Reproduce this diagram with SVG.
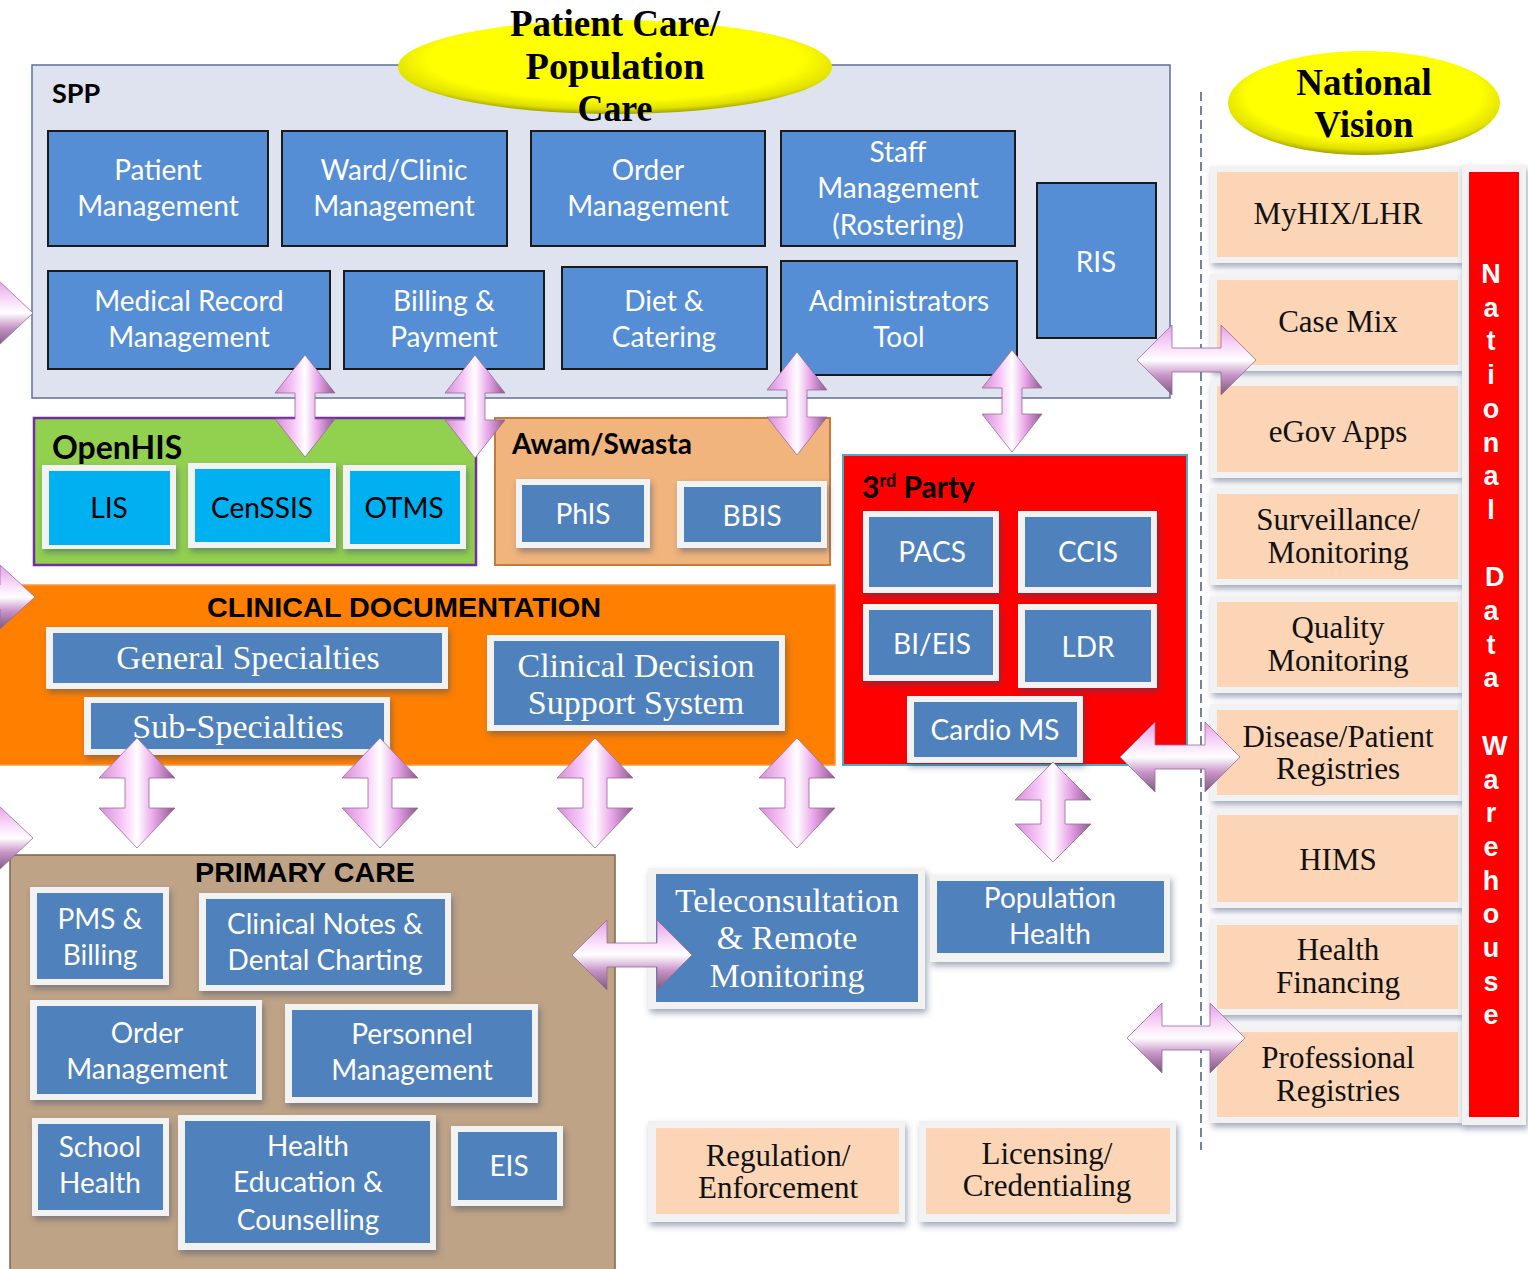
<svg xmlns="http://www.w3.org/2000/svg" width="1528" height="1269" viewBox="0 0 1528 1269">
<style>
.sans{font-family:Lato,"Liberation Sans",sans-serif}
.serif{font-family:"Liberation Serif",serif}
.bt{fill:#558ed5;stroke:#1a1a1a;stroke-width:2}
.bx{fill:#4f81bd}
.cy{fill:#00b0f0}
.pe{fill:#fbd5b5}
.fr{fill:#f2f2f2;filter:url(#sh)}
.wt{fill:#ffffff;font-size:28px;text-anchor:middle}
.bk{fill:#000000;font-size:28px;text-anchor:middle}
.st{fill:#ffffff;font-size:34px;text-anchor:middle}
.sk{fill:#111111;font-size:31px;text-anchor:middle}
.hd{font-family:Lato,"Liberation Sans",sans-serif;font-weight:bold;fill:#000}
.ah{font-family:"Liberation Sans",sans-serif;font-weight:bold;fill:#000;text-anchor:middle}
.av{fill:url(#gv);stroke:#9a6a9a;stroke-width:0.8}
.ahz{fill:url(#gh);stroke:#9a6a9a;stroke-width:0.8}
.ell{font-family:"Liberation Serif",serif;font-weight:bold;fill:#000;text-anchor:middle}
</style>
<defs>
<filter id="sh" x="-10%" y="-10%" width="125%" height="135%">
<feDropShadow dx="2" dy="4" stdDeviation="3" flood-color="#34456a" flood-opacity="0.45"/>
</filter>
<linearGradient id="gv" x1="0" y1="0" x2="1" y2="0">
<stop offset="0" stop-color="#d48ed4"/>
<stop offset="0.3" stop-color="#f7c6f7"/>
<stop offset="0.5" stop-color="#ffffff"/>
<stop offset="0.72" stop-color="#e9a5e9"/>
<stop offset="1" stop-color="#8a5a8a"/>
</linearGradient>
<linearGradient id="gh" x1="0" y1="0" x2="0" y2="1">
<stop offset="0" stop-color="#e6a0e6"/>
<stop offset="0.35" stop-color="#fbe4fb"/>
<stop offset="0.5" stop-color="#ffffff"/>
<stop offset="0.72" stop-color="#c894c8"/>
<stop offset="1" stop-color="#7a5a7a"/>
</linearGradient>
<radialGradient id="gy" cx="0.5" cy="0.42" r="0.6">
<stop offset="0" stop-color="#ffff00"/>
<stop offset="0.72" stop-color="#ffff00"/>
<stop offset="0.88" stop-color="#e0e000"/>
<stop offset="1" stop-color="#8a8a00"/>
</radialGradient>
</defs>
<rect x="0" y="0" width="1528" height="1269" fill="#ffffff"/>

<!-- SPP container -->
<g id="spp">
<rect x="32" y="65" width="1138" height="333" fill="#dfe3ef" stroke="#5f7198" stroke-width="1.5"/>
<text x="52" y="103" class="hd" font-size="27">SPP</text>
</g>
<g id="patient-care-ellipse">
<ellipse cx="615" cy="67" rx="217" ry="47" fill="url(#gy)"/>
<text class="ell" font-size="37"><tspan x="615" y="36" textLength="210" lengthAdjust="spacingAndGlyphs">Patient Care/</tspan><tspan x="615" y="79" textLength="179" lengthAdjust="spacingAndGlyphs">Population</tspan><tspan x="615" y="121" textLength="75" lengthAdjust="spacingAndGlyphs">Care</tspan></text>
</g>
<g id="patient-management"><rect class="bt" x="48" y="131" width="220" height="115"/><text class="sans wt"><tspan x="158" y="180">Patient</tspan><tspan x="158" y="216">Management</tspan></text></g>
<g id="ward-clinic"><rect class="bt" x="282" y="131" width="225" height="115"/><text class="sans wt"><tspan x="394" y="180">Ward/Clinic</tspan><tspan x="394" y="216">Management</tspan></text></g>
<g id="order-management"><rect class="bt" x="531" y="131" width="234" height="115"/><text class="sans wt"><tspan x="648" y="180">Order</tspan><tspan x="648" y="216">Management</tspan></text></g>
<g id="staff-management"><rect class="bt" x="781" y="131" width="234" height="115"/><text class="sans wt"><tspan x="898" y="162">Staff</tspan><tspan x="898" y="198">Management</tspan><tspan x="898" y="235">(Rostering)</tspan></text></g>
<g id="ris"><rect class="bt" x="1037" y="183" width="119" height="155"/><text class="sans wt" x="1096" y="272">RIS</text></g>
<g id="medical-record"><rect class="bt" x="48" y="271" width="282" height="98"/><text class="sans wt"><tspan x="189" y="311">Medical Record</tspan><tspan x="189" y="347">Management</tspan></text></g>
<g id="billing-payment"><rect class="bt" x="344" y="271" width="200" height="98"/><text class="sans wt"><tspan x="444" y="311">Billing &amp;</tspan><tspan x="444" y="347">Payment</tspan></text></g>
<g id="diet-catering"><rect class="bt" x="562" y="267" width="205" height="102"/><text class="sans wt"><tspan x="664" y="311">Diet &amp;</tspan><tspan x="664" y="347">Catering</tspan></text></g>
<g id="admin-tool"><rect class="bt" x="781" y="261" width="236" height="114"/><text class="sans wt"><tspan x="899" y="311">Administrators</tspan><tspan x="899" y="347">Tool</tspan></text></g>

<!-- OpenHIS -->
<g id="openhis">
<rect x="34" y="418" width="442" height="147" fill="#92d050" stroke="#7030a0" stroke-width="2.5"/>
<text x="52" y="459" class="hd" font-size="32">OpenHIS</text>
</g>
<g id="lis"><rect class="fr" x="42" y="465" width="134" height="84"/><rect class="cy" x="49" y="471" width="121" height="74"/><text class="sans bk" x="109" y="518">LIS</text></g>
<g id="censsis"><rect class="fr" x="188" y="463" width="148" height="85"/><rect class="cy" x="195" y="469" width="135" height="73"/><text class="sans bk" x="262" y="518">CenSSIS</text></g>
<g id="otms"><rect class="fr" x="343" y="465" width="123" height="84"/><rect class="cy" x="350" y="471" width="110" height="73"/><text class="sans bk" x="404" y="518">OTMS</text></g>

<!-- Awam/Swasta -->
<g id="awam-swasta">
<rect x="495" y="418" width="335" height="147" fill="#f0b47c" stroke="#c57a3e" stroke-width="2"/>
<text x="512" y="454" class="hd" font-size="28">Awam/Swasta</text>
</g>
<g id="phis"><rect class="fr" x="516" y="479" width="134" height="69"/><rect class="bx" x="522" y="485" width="122" height="57"/><text class="sans wt" x="583" y="524">PhIS</text></g>
<g id="bbis"><rect class="fr" x="677" y="481" width="150" height="67"/><rect class="bx" x="684" y="487" width="137" height="55"/><text class="sans wt" x="752" y="526">BBIS</text></g>

<!-- Clinical Documentation -->
<g id="clinical-documentation">
<rect x="-2" y="585" width="837" height="180" fill="#ff8000" stroke="#f79646" stroke-width="1.5"/>
<text class="ah" x="404" y="617" font-size="28" textLength="394" lengthAdjust="spacingAndGlyphs">CLINICAL DOCUMENTATION</text>
</g>
<g id="general-specialties"><rect class="fr" x="46" y="627" width="402" height="62"/><rect class="bx" x="53" y="633" width="389" height="50"/><text class="serif st" x="248" y="669">General Specialties</text></g>
<g id="sub-specialties"><rect class="fr" x="84" y="697" width="306" height="58"/><rect class="bx" x="91" y="703" width="293" height="46"/><text class="serif st" x="238" y="738">Sub-Specialties</text></g>
<g id="cdss"><rect class="fr" x="487" y="635" width="298" height="96"/><rect class="bx" x="494" y="641" width="285" height="84"/><text class="serif st"><tspan x="636" y="677">Clinical Decision</tspan><tspan x="636" y="714">Support  System</tspan></text></g>

<!-- 3rd Party -->
<g id="third-party">
<rect x="843" y="455" width="344" height="310" fill="#ff0000" stroke="#4bacc6" stroke-width="2"/>
<text x="862" y="498" class="hd" font-size="30">3<tspan font-size="18" dy="-11">rd</tspan><tspan dy="11"> Party</tspan></text>
</g>
<g id="pacs"><rect class="fr" x="863" y="511" width="136" height="82"/><rect class="bx" x="869" y="517" width="124" height="70"/><text class="sans wt" x="932" y="562">PACS</text></g>
<g id="ccis"><rect class="fr" x="1018" y="511" width="139" height="82"/><rect class="bx" x="1025" y="517" width="126" height="70"/><text class="sans wt" x="1088" y="562">CCIS</text></g>
<g id="bi-eis"><rect class="fr" x="863" y="604" width="136" height="77"/><rect class="bx" x="869" y="610" width="124" height="65"/><text class="sans wt" x="932" y="654">BI/EIS</text></g>
<g id="ldr"><rect class="fr" x="1018" y="604" width="139" height="84"/><rect class="bx" x="1025" y="610" width="126" height="72"/><text class="sans wt" x="1088" y="657">LDR</text></g>
<g id="cardio-ms"><rect class="fr" x="907" y="696" width="176" height="67"/><rect class="bx" x="914" y="702" width="163" height="55"/><text class="sans wt" x="995" y="740">Cardio MS</text></g>

<!-- Primary Care -->
<g id="primary-care">
<rect x="10" y="855" width="605" height="420" fill="#bfa386" stroke="#7a6650" stroke-width="1.5"/>
<text class="ah" x="305" y="882" font-size="27" textLength="220" lengthAdjust="spacingAndGlyphs">PRIMARY CARE</text>
</g>
<g id="pms-billing"><rect class="fr" x="30" y="887" width="139" height="98"/><rect class="bx" x="37" y="893" width="126" height="86"/><text class="sans wt"><tspan x="100" y="929">PMS &amp;</tspan><tspan x="100" y="965">Billing</tspan></text></g>
<g id="clinical-notes"><rect class="fr" x="199" y="893" width="252" height="98"/><rect class="bx" x="206" y="899" width="239" height="86"/><text class="sans wt"><tspan x="325" y="934">Clinical Notes &amp;</tspan><tspan x="325" y="970">Dental Charting</tspan></text></g>
<g id="pc-order-management"><rect class="fr" x="30" y="1000" width="232" height="100"/><rect class="bx" x="37" y="1006" width="219" height="88"/><text class="sans wt"><tspan x="147" y="1043">Order</tspan><tspan x="147" y="1079">Management</tspan></text></g>
<g id="personnel-management"><rect class="fr" x="285" y="1004" width="253" height="99"/><rect class="bx" x="292" y="1010" width="240" height="87"/><text class="sans wt"><tspan x="412" y="1044">Personnel</tspan><tspan x="412" y="1080">Management</tspan></text></g>
<g id="school-health"><rect class="fr" x="32" y="1118" width="137" height="98"/><rect class="bx" x="38" y="1124" width="125" height="86"/><text class="sans wt"><tspan x="100" y="1157">School</tspan><tspan x="100" y="1193">Health</tspan></text></g>
<g id="health-education"><rect class="fr" x="178" y="1115" width="258" height="135"/><rect class="bx" x="185" y="1121" width="245" height="122"/><text class="sans wt"><tspan x="308" y="1156">Health</tspan><tspan x="308" y="1192">Education &amp;</tspan><tspan x="308" y="1230">Counselling</tspan></text></g>
<g id="eis"><rect class="fr" x="451" y="1126" width="112" height="80"/><rect class="bx" x="458" y="1132" width="99" height="68"/><text class="sans wt" x="509" y="1176">EIS</text></g>

<!-- Middle bottom -->
<g id="teleconsultation"><rect class="fr" x="648" y="868" width="277" height="141"/><rect class="bx" x="656" y="874" width="262" height="128"/><text class="serif st"><tspan x="787" y="912">Teleconsultation</tspan><tspan x="787" y="949">&amp; Remote</tspan><tspan x="787" y="987">Monitoring</tspan></text></g>
<g id="population-health"><rect class="fr" x="930" y="875" width="240" height="87"/><rect class="bx" x="937" y="881" width="227" height="72"/><text class="sans wt"><tspan x="1050" y="908">Population</tspan><tspan x="1050" y="944">Health</tspan></text></g>
<g id="regulation"><rect class="fr" x="648" y="1121" width="257" height="101"/><rect class="pe" x="656" y="1128" width="243" height="86"/><text class="serif sk"><tspan x="778" y="1166">Regulation/</tspan><tspan x="778" y="1198">Enforcement</tspan></text></g>
<g id="licensing"><rect class="fr" x="919" y="1121" width="257" height="101"/><rect class="pe" x="926" y="1128" width="244" height="86"/><text class="serif sk"><tspan x="1047" y="1164">Licensing/</tspan><tspan x="1047" y="1196">Credentialing</tspan></text></g>

<!-- divider -->
<line id="divider" x1="1201" y1="92" x2="1201" y2="1150" stroke="#4a5a80" stroke-width="1.5" stroke-dasharray="9,5"/>

<!-- National vision -->
<g id="national-vision">
<ellipse cx="1364" cy="103" rx="136" ry="52" fill="url(#gy)"/>
<text class="ell" font-size="37"><tspan x="1364" y="95">National</tspan><tspan x="1364" y="137">Vision</tspan></text>
</g>
<g id="myhix"><rect class="fr" x="1210" y="166" width="254" height="97"/><rect class="pe" x="1217" y="172" width="241" height="85"/><text class="serif sk" x="1338" y="224">MyHIX/LHR</text></g>
<g id="case-mix"><rect class="fr" x="1210" y="274" width="254" height="97"/><rect class="pe" x="1217" y="280" width="241" height="85"/><text class="serif sk" x="1338" y="332">Case Mix</text></g>
<g id="egov"><rect class="fr" x="1210" y="380" width="254" height="98"/><rect class="pe" x="1217" y="386" width="241" height="86"/><text class="serif sk" x="1338" y="442">eGov Apps</text></g>
<g id="surveillance"><rect class="fr" x="1210" y="488" width="254" height="97"/><rect class="pe" x="1217" y="494" width="241" height="85"/><text class="serif sk"><tspan x="1338" y="530">Surveillance/</tspan><tspan x="1338" y="563">Monitoring</tspan></text></g>
<g id="quality"><rect class="fr" x="1210" y="596" width="254" height="97"/><rect class="pe" x="1217" y="602" width="241" height="85"/><text class="serif sk"><tspan x="1338" y="638">Quality</tspan><tspan x="1338" y="671">Monitoring</tspan></text></g>
<g id="disease-registries"><rect class="fr" x="1210" y="704" width="254" height="97"/><rect class="pe" x="1217" y="710" width="241" height="85"/><text class="serif sk"><tspan x="1338" y="747">Disease/Patient</tspan><tspan x="1338" y="779">Registries</tspan></text></g>
<g id="hims"><rect class="fr" x="1210" y="809" width="254" height="99"/><rect class="pe" x="1217" y="815" width="241" height="87"/><text class="serif sk" x="1338" y="870">HIMS</text></g>
<g id="health-financing"><rect class="fr" x="1210" y="919" width="254" height="96"/><rect class="pe" x="1217" y="925" width="241" height="84"/><text class="serif sk"><tspan x="1338" y="960">Health</tspan><tspan x="1338" y="993">Financing</tspan></text></g>
<g id="professional-registries"><rect class="fr" x="1210" y="1026" width="254" height="97"/><rect class="pe" x="1217" y="1032" width="241" height="85"/><text class="serif sk"><tspan x="1338" y="1068">Professional</tspan><tspan x="1338" y="1101">Registries</tspan></text></g>
<g id="national-data-warehouse">
<rect class="fr" x="1462" y="165" width="64" height="960"/>
<rect x="1469" y="172" width="50" height="945" fill="#ff0000"/>
<text font-family="'Liberation Sans',sans-serif" font-weight="bold" font-size="27" fill="#ffffff" text-anchor="middle"><tspan x="1491" y="283">N</tspan><tspan x="1491" dy="33.7">a</tspan><tspan x="1491" dy="33.7">t</tspan><tspan x="1491" dy="33.7">i</tspan><tspan x="1491" dy="33.7">o</tspan><tspan x="1491" dy="33.7">n</tspan><tspan x="1491" dy="33.7">a</tspan><tspan x="1491" dy="33.7">l</tspan><tspan x="1491" dy="67.4"> D</tspan><tspan x="1491" dy="33.7">a</tspan><tspan x="1491" dy="33.7">t</tspan><tspan x="1491" dy="33.7">a</tspan><tspan x="1491" dy="67.4"> W</tspan><tspan x="1491" dy="33.7">a</tspan><tspan x="1491" dy="33.7">r</tspan><tspan x="1491" dy="33.7">e</tspan><tspan x="1491" dy="33.7">h</tspan><tspan x="1491" dy="33.7">o</tspan><tspan x="1491" dy="33.7">u</tspan><tspan x="1491" dy="33.7">s</tspan><tspan x="1491" dy="33.7">e</tspan></text>
</g>

<!-- connectors -->
<g id="connectors">
<path class="av" d="M305,355 L335,393 L315,393 L315,419 L335,419 L305,457 L275,419 L295,419 L295,393 L275,393 Z"/>
<path class="av" d="M475,355 L505,393 L485,393 L485,420 L505,420 L475,458 L445,420 L465,420 L465,393 L445,393 Z"/>
<path class="av" d="M797,352 L827,390 L807,390 L807,417 L827,417 L797,455 L767,417 L787,417 L787,390 L767,390 Z"/>
<path class="av" d="M1012,350 L1042,388 L1022,388 L1022,414 L1042,414 L1012,452 L982,414 L1002,414 L1002,388 L982,388 Z"/>
<path class="av" d="M137,738 L175,778 L149,778 L149,808 L175,808 L137,848 L99,808 L125,808 L125,778 L99,778 Z"/>
<path class="av" d="M380,738 L418,778 L392,778 L392,808 L418,808 L380,848 L342,808 L368,808 L368,778 L342,778 Z"/>
<path class="av" d="M595,738 L633,778 L607,778 L607,808 L633,808 L595,848 L557,808 L583,808 L583,778 L557,778 Z"/>
<path class="av" d="M797,738 L835,778 L809,778 L809,808 L835,808 L797,848 L759,808 L785,808 L785,778 L759,778 Z"/>
<path class="av" d="M1053,762 L1091,800 L1065,800 L1065,824 L1091,824 L1053,862 L1015,824 L1041,824 L1041,800 L1015,800 Z"/>
<path class="ahz" d="M1137,360 L1172,325 L1172,348 L1221,348 L1221,325 L1256,360 L1221,395 L1221,372 L1172,372 L1172,395 Z"/>
<path class="ahz" d="M1120,757 L1155,722 L1155,745 L1205,745 L1205,722 L1240,757 L1205,792 L1205,769 L1155,769 L1155,792 Z"/>
<path class="ahz" d="M1127,1038 L1162,1003 L1162,1026 L1210,1026 L1210,1003 L1245,1038 L1210,1073 L1210,1050 L1162,1050 L1162,1073 Z"/>
<path class="ahz" d="M572,955 L607,920 L607,943 L657,943 L657,920 L692,955 L657,990 L657,967 L607,967 L607,990 Z"/>
<path class="ahz" d="M-90,313 L-55,280 L-55,301 L-2,301 L-2,280 L33,313 L-2,346 L-2,325 L-55,325 L-55,346 Z"/>
<path class="ahz" d="M-90,597 L-55,565 L-55,585 L0,585 L0,565 L35,597 L0,629 L0,609 L-55,609 L-55,629 Z"/>
<path class="ahz" d="M-90,838 L-55,805 L-55,826 L-2,826 L-2,805 L33,838 L-2,871 L-2,850 L-55,850 L-55,871 Z"/>
</g>
</svg>
